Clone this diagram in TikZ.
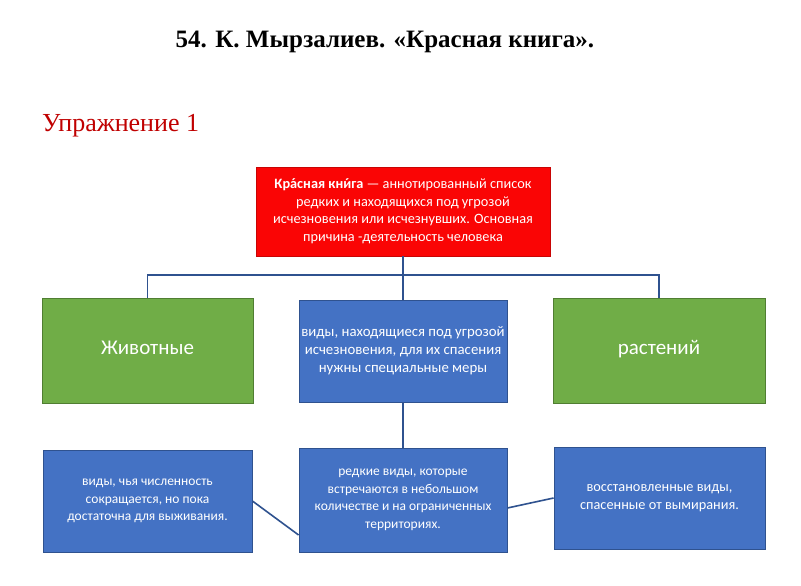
\documentclass[tikz,border=0pt]{standalone}
\usepackage{fontspec}
\setmainfont{Liberation Serif}
\newfontfamily\boxfont{Carlito}
\usetikzlibrary{positioning}
\definecolor{bookcolor}{RGB}{250,5,5}
\definecolor{groupcolor}{RGB}{112,173,71}
\definecolor{groupedge}{RGB}{80,126,50}
\definecolor{kindcolor}{RGB}{68,114,196}
\definecolor{linkcolor}{RGB}{47,82,143}
\definecolor{headcolor}{RGB}{192,0,0}
% stress mark over a vowel
\newcommand\stressed[1]{\ooalign{#1\cr\hidewidth\char"00B4\hidewidth\cr}}

\begin{document}
\begin{tikzpicture}[x=1pt, y=-1pt,
    cell/.style={draw, line width=0.8pt, text=white, align=center, inner sep=0pt,
                 font=\boxfont\fontsize{13.5}{17.5}\selectfont},
    bookbox/.style={cell, fill=bookcolor, draw=bookcolor!80!black, minimum width=294pt, minimum height=89pt,
                 font=\boxfont\fontsize{14.3}{17.5}\selectfont},
    groupbox/.style={cell, fill=groupcolor, draw=groupedge, minimum width=211pt, minimum height=105pt,
                 text height=0.9em, text depth=0.12em, font=\boxfont\fontsize{21}{24}\selectfont},
    kindbox/.style={cell, fill=kindcolor, draw=linkcolor, minimum width=208pt, minimum height=102pt},
    link/.style={draw=linkcolor, line width=1.6pt}]
    \useasboundingbox[fill=white] (0,0) rectangle (801,586);

    % headings
    \node[font=\bfseries\fontsize{25}{28}\selectfont] (title) at (385, 42) {54. К. Мырзалиев. «Красная книга».};
    \node[anchor=west, text=headcolor, font=\fontsize{26}{28}\selectfont, inner sep=0pt] (task) at (42, 126) {Упражнение 1};

    % top level
    \node[bookbox] (book) at (403, 211.5) {\textbf{Кр\stressed{а}сная кн\stressed{и}га} — аннотированный список\\редких и находящихся под угрозой\\исчезновения или исчезнувших. Основная\\причина -деятельность человека};

    % second level
    \node[groupbox] (animals) at (147.5, 350.5) {Животные};
    \node[kindbox, font=\boxfont\fontsize{14.8}{18}\selectfont] (threat) at (403, 351) {виды, находящиеся под угрозой\\исчезновения, для их спасения\\нужны специальные меры};
    \node[groupbox, minimum width=212pt] (plants) at (659, 350.5) {растений};

    % third level
    \node[kindbox, minimum width=209pt] (decl) at (147.5, 501) {виды, чья численность\\сокращается, но пока\\достаточна для выживания.};
    \node[kindbox, minimum height=104pt] (rare) at (403, 500) {редкие виды, которые\\встречаются в небольшом\\количестве и на ограниченных\\территориях.};
    \node[kindbox, minimum width=211pt, font=\boxfont\fontsize{14.3}{18}\selectfont] (restored) at (659.5, 498) {восстановленные виды,\\спасенные от вымирания.};

    % connectors
    \coordinate (hub) at (403, 275);
    \draw[link] (book.south) -- (threat.north);
    \draw[link] (animals.north) |- (hub) -| (plants.north);
    \draw[link] (threat.south) -- (rare.north);
    \draw[link] (decl.east) -- ([yshift=-35pt]rare.west);
    \draw[link] ([yshift=-8pt]rare.east) -- (restored.west);
\end{tikzpicture}
\end{document}
